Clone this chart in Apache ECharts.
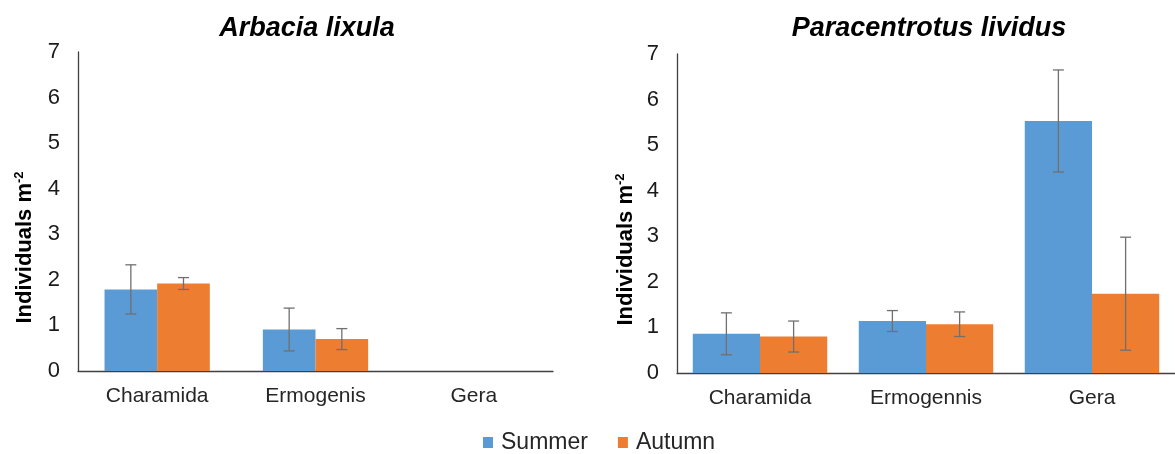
<!DOCTYPE html>
<html>
<head>
	<meta charset="utf-8">
	<title>urchins</title>
	<style>
		body { margin: 0; padding: 0; background: #fff; }
		#main { width: 1175px; height: 454px; }
	</style>
</head>
<body>
	<div id="main"></div>
	<script src="https://cdn.jsdelivr.net/npm/echarts@6/dist/echarts.min.js"></script>
	<script type="text/javascript">
		// data (individuals per m2, mean and error)
		var categoriesLeft = ['Charamida', 'Ermogenis', 'Gera'];
		var categoriesRight = ['Charamida', 'Ermogennis', 'Gera'];
		var seasons = ['Summer', 'Autumn'];
		var yTicks = [0, 1, 2, 3, 4, 5, 6, 7];

		var arbaciaSummer = [1.79, 0.91, 0];
		var arbaciaSummerErr = [0.54, 0.47, null];
		var arbaciaAutumn = [1.92, 0.70, 0];
		var arbaciaAutumnErr = [0.13, 0.23, null];

		var lividusSummer = [0.86, 1.14, 5.53];
		var lividusSummerErr = [0.46, 0.23, 1.12];
		var lividusAutumn = [0.80, 1.07, 1.74];
		var lividusAutumnErr = [0.34, 0.27, 1.24];

		var FONT = "'Liberation Sans', Arial, sans-serif";
		var BLUE = '#5B9BD5';
		var ORANGE = '#ED7D31';

		var myChart = echarts.init(document.getElementById('main'));

		function errData(mean, err) {
			var out = [];
			for (var i = 0; i < mean.length; i++) {
				if (err[i] == null) continue;
				out.push([i, mean[i] - err[i], mean[i] + err[i]]);
			}
			return out;
		}

		// side: -1 for first bar of group, 1 for second
		function errSeries(gridIdx, mean, err, side, gap) {
			return {
				type: 'custom',
				xAxisIndex: gridIdx,
				yAxisIndex: gridIdx,
				z: 10,
				silent: true,
				encode: { x: 0, y: [1, 2] },
				data: errData(mean, err),
				renderItem: function (params, api) {
					var hi = api.coord([api.value(0), api.value(2)]);
					var lo = api.coord([api.value(0), api.value(1)]);
					var band = api.size([1, 0])[0];
					var barW = band * (1 - gap) / 2;
					var x = hi[0] + side * barW / 2;
					var cap = 5.5;
					var st = { stroke: '#707070', lineWidth: 1.3 };
					return {
						type: 'group',
						children: [
							{ type: 'line', shape: { x1: x, y1: hi[1], x2: x, y2: lo[1] }, style: st },
							{ type: 'line', shape: { x1: x - cap, y1: hi[1], x2: x + cap, y2: hi[1] }, style: st },
							{ type: 'line', shape: { x1: x - cap, y1: lo[1], x2: x + cap, y2: lo[1] }, style: st }
						]
					};
				}
			};
		}

		function xAx(gridIdx, cats) {
			return {
				type: 'category',
				gridIndex: gridIdx,
				data: cats,
				axisTick: { show: false },
				axisLine: { lineStyle: { color: '#404040', width: 1.3 } },
				axisLabel: { fontSize: 21, color: '#262626', fontFamily: FONT, margin: 15 }
			};
		}

		function yAx(gridIdx, gapName) {
			return {
				type: 'value',
				gridIndex: gridIdx,
				min: yTicks[0],
				max: yTicks[yTicks.length - 1],
				interval: 1,
				splitLine: { show: false },
				axisTick: { show: false },
				axisLine: { show: true, lineStyle: { color: '#404040', width: 1.3 } },
				axisLabel: { fontSize: 22, color: '#1a1a1a', fontFamily: FONT, margin: 18 },
				name: '{a|Individuals m}{b|-2}',
				nameLocation: 'middle',
				nameRotate: 90,
				nameGap: gapName,
				nameTextStyle: {
					padding: [0, 72, 0, 0],
					rich: {
						a: { fontSize: 22, fontWeight: 'bold', color: '#000', fontFamily: FONT, lineHeight: 24 },
						b: { fontSize: 13, fontWeight: 'bold', color: '#000', fontFamily: FONT, verticalAlign: 'top', lineHeight: 24 }
					}
				}
			};
		}

		var leftGap = 0.335, rightGap = 0.19;

		myChart.setOption({
			animation: false,
			title: [
				{ text: 'Arbacia lixula', left: 302, top: 10, textAlign: 'center',
					textStyle: { fontSize: 27, fontWeight: 'bold', fontStyle: 'italic', color: '#000', fontFamily: FONT } },
				{ text: 'Paracentrotus lividus', left: 924, top: 10, textAlign: 'center',
					textStyle: { fontSize: 27, fontWeight: 'bold', fontStyle: 'italic', color: '#000', fontFamily: FONT } }
			],
			legend: {
				data: seasons,
				left: 483,
				top: 431,
				padding: 0,
				icon: 'rect',
				itemWidth: 10,
				itemHeight: 11,
				itemGap: 30,
				textStyle: { fontSize: 23, color: '#262626', fontFamily: FONT, padding: [0, 0, 0, 3] }
			},
			grid: [
				{ left: 78, right: 622, top: 52, bottom: 83 },
				{ left: 677, right: 0, top: 54, bottom: 81 }
			],
			xAxis: [xAx(0, categoriesLeft), xAx(1, categoriesRight)],
			yAxis: [yAx(0, 41), yAx(1, 39)],
			series: [
				{ name: seasons[0], type: 'bar', xAxisIndex: 0, yAxisIndex: 0, data: arbaciaSummer,
					itemStyle: { color: BLUE }, barGap: 0, barCategoryGap: (leftGap * 100) + '%' },
				{ name: seasons[1], type: 'bar', xAxisIndex: 0, yAxisIndex: 0, data: arbaciaAutumn,
					itemStyle: { color: ORANGE }, barGap: 0, barCategoryGap: (leftGap * 100) + '%' },
				{ name: seasons[0], type: 'bar', xAxisIndex: 1, yAxisIndex: 1, data: lividusSummer,
					itemStyle: { color: BLUE }, barGap: 0, barCategoryGap: (rightGap * 100) + '%' },
				{ name: seasons[1], type: 'bar', xAxisIndex: 1, yAxisIndex: 1, data: lividusAutumn,
					itemStyle: { color: ORANGE }, barGap: 0, barCategoryGap: (rightGap * 100) + '%' },
				errSeries(0, arbaciaSummer, arbaciaSummerErr, -1, leftGap),
				errSeries(0, arbaciaAutumn, arbaciaAutumnErr, 1, leftGap),
				errSeries(1, lividusSummer, lividusSummerErr, -1, rightGap),
				errSeries(1, lividusAutumn, lividusAutumnErr, 1, rightGap)
			]
		});

		window.addEventListener('resize', function () {
			myChart.resize();
		});
	</script>
</body>
</html>
